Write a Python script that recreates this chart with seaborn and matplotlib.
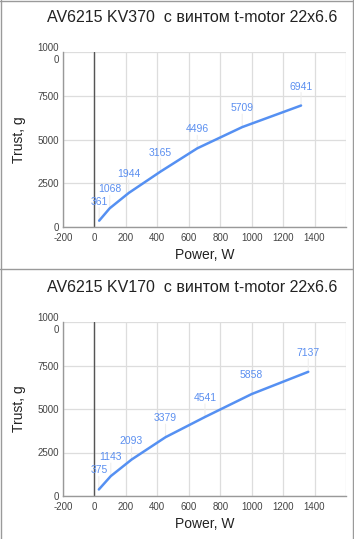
import matplotlib
matplotlib.use("Agg")
import matplotlib.pyplot as plt
from matplotlib.lines import Line2D
import seaborn as sns
import pandas as pd

# ---- data ----
titles = ["AV6215 KV370  с винтом t-motor 22x6.6",
          "AV6215 KV170  с винтом t-motor 22x6.6"]
power_kv370 = [30, 97, 218, 420, 654, 940, 1314]
thrust_kv370 = [361, 1068, 1944, 3165, 4496, 5709, 6941]
power_kv170 = [28, 104, 236, 452, 703, 1000, 1360]
thrust_kv170 = [375, 1143, 2093, 3379, 4541, 5858, 7137]
x_ticks = [-200, 0, 200, 400, 600, 800, 1000, 1200, 1400]
x_tick_labels = ["-200", "0", "200", "400", "600", "800", "1000", "1200", "1400"]
y_ticks = [0, 2500, 5000, 7500, 10000]
y_tick_labels = ["0", "2500", "5000", "7500", "1000\n0"]
x_label = "Power, W"
y_label = "Trust, g"

sns.set_style("white")
plt.rcParams['font.family'] = ['Liberation Sans', 'DejaVu Sans']

W, H = 354, 539
fig = plt.figure(figsize=(W / 100, H / 100), dpi=100)

LINE = "#5590f2"
LABEL = "#5b8ff0"

panels = [
    (titles[0], power_kv370, thrust_kv370, 52, 227, 18),
    (titles[1], power_kv170, thrust_kv170, 322, 496, 288),
]

for title, px, ty, top, bottom, title_y in panels:
    ax = fig.add_axes([63 / W, 1 - bottom / H, (346 - 63) / W, (bottom - top) / H])
    df = pd.DataFrame({"power": px, "thrust": ty})
    sns.lineplot(data=df, x="power", y="thrust", ax=ax, color=LINE, linewidth=1.8,
                 zorder=3)
    ax.set_xlim(-200, 1600)
    ax.set_ylim(0, 10000)
    ax.set_xticks(x_ticks)
    ax.set_xticklabels(x_tick_labels)
    ax.set_yticks(y_ticks)
    ax.set_yticklabels(y_tick_labels, multialignment="right")
    ax.set_xticks([1600], minor=True)
    ax.tick_params(axis="both", length=0, labelsize=7, colors="#444444", pad=4)
    ax.tick_params(axis="y", pad=3)
    ax.grid(True, color="#dddddd", linewidth=0.9)
    ax.grid(True, which="minor", axis="x", color="#dddddd", linewidth=0.9)
    ax.set_axisbelow(True)
    for s in ["top", "right"]:
        ax.spines[s].set_visible(False)
    for s in ["left", "bottom"]:
        ax.spines[s].set_color("#999999")
        ax.spines[s].set_linewidth(1.0)
    ax.axvline(0, color="#555555", linewidth=1.0, zorder=2)
    ax.set_xlabel(x_label, fontsize=10, color="#222222", labelpad=4)
    ax.set_ylabel(y_label, fontsize=10, color="#222222", labelpad=8)
    for xv, yv in zip(px, ty):
        # faint stem
        ax.annotate("", xy=(xv, yv), xytext=(0, 13), textcoords="offset pixels",
                    zorder=1.5,
                    arrowprops=dict(arrowstyle="-", color="#eeeeee", lw=0.8,
                                    shrinkA=0, shrinkB=0))
        ax.annotate(str(yv), xy=(xv, yv), xytext=(0, 19), textcoords="offset pixels",
                    ha="center", va="center", fontsize=7.5, color=LABEL, zorder=4)
    fig.text(192 / W, 1 - title_y / H, title, ha="center", va="center",
             fontsize=11.5, color="#222222")

# panel borders
bc = "#9a9a9a"
fig.add_artist(Line2D([0.5 / W, 0.5 / W], [0, 1], transform=fig.transFigure, color=bc, lw=1))
fig.add_artist(Line2D([0, 1], [1 - 0.5 / H, 1 - 0.5 / H], transform=fig.transFigure, color=bc, lw=1))
fig.add_artist(Line2D([353 / W, 353 / W], [0, 1], transform=fig.transFigure, color=bc, lw=1))
fig.add_artist(Line2D([0, 353 / W], [1 - 269 / H, 1 - 269 / H], transform=fig.transFigure, color=bc, lw=1))

fig.savefig("out.png", dpi=100, facecolor="white")
